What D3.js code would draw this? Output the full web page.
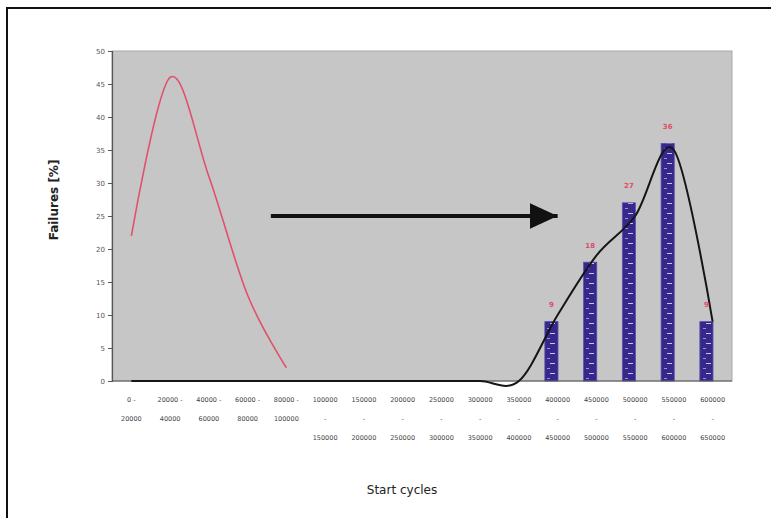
<!DOCTYPE html>
<html>
<head>
<meta charset="utf-8">
<script src="https://cdn.jsdelivr.net/npm/d3@7"></script>
<style>
  body { margin: 0; background: #fff; overflow: hidden; }
  svg { display: block; }
</style>
</head>
<body>
<svg width="771" height="518"></svg>
<script>
// start cycle ranges (category = "start - end")
const rangeStarts = [0, 20000, 40000, 60000, 80000, 100000, 150000, 200000, 250000, 300000, 350000, 400000, 450000, 500000, 550000, 600000];
const rangeEnds = [20000, 40000, 60000, 80000, 100000, 150000, 200000, 250000, 300000, 350000, 400000, 450000, 500000, 550000, 600000, 650000];

// failures [%] per range
const barValues = [null, null, null, null, null, null, null, null, null, null, null, 9, 18, 27, 36, 9];
const barLabels = ["", "", "", "", "", "", "", "", "", "", "", "9", "18", "27", "36", "9"];
const blackCurve = [0, 0, 0, 0, 0, 0, 0, 0, 0, 0, 0, 10, 19, 25, 35, 9];
const redCurve = [22, 46, 31, 13, 2, null, null, null, null, null, null, null, null, null, null, null];

const yTicks = [0, 5, 10, 15, 20, 25, 30, 35, 40, 45, 50];

// arrow annotation, in category index / value units
const arrowStart = [4.1, 25];
const arrowEnd = [11.5, 25];

const svg = d3.select("svg");
const font = "DejaVu Sans, Verdana, sans-serif";

const plot = { left: 112, top: 51, right: 732, bottom: 381 };

const categories = rangeStarts.map((s, i) => s + "-" + rangeEnds[i]);

const x = d3.scaleBand()
    .domain(categories)
    .range([plot.left, plot.right])
    .padding(0);

const xi = d3.scaleLinear()
    .domain([0, categories.length])
    .range([plot.left, plot.right]);

const y = d3.scaleLinear()
    .domain([0, 50])
    .range([plot.bottom, plot.top]);

const bw = x.bandwidth();
const cx = i => x(categories[i]) + bw / 2;

// outer frame (only top/left edges visible)
svg.append("path")
    .attr("d", "M7,518V8H771")
    .attr("fill", "none")
    .attr("stroke", "#111")
    .attr("stroke-width", 2);

// plot area
svg.append("rect")
    .attr("x", plot.left).attr("y", plot.top)
    .attr("width", plot.right - plot.left)
    .attr("height", plot.bottom - plot.top)
    .attr("fill", "#c6c6c6")
    .attr("stroke", "#a8a8a8")
    .attr("stroke-width", 1);

// bar pattern: dark blue with white dashes
const defs = svg.append("defs");
const pat = defs.append("pattern")
    .attr("id", "dash")
    .attr("patternUnits", "userSpaceOnUse")
    .attr("width", 13).attr("height", 10);
pat.append("rect").attr("width", 13).attr("height", 10).attr("fill", "#35288a");
pat.append("rect").attr("x", 4).attr("y", 3).attr("width", 5).attr("height", 1).attr("fill", "#c8c4f0");
pat.append("rect").attr("x", 1).attr("y", 8).attr("width", 3).attr("height", 1).attr("fill", "#9a93d8");

defs.append("marker")
    .attr("id", "head")
    .attr("markerUnits", "userSpaceOnUse")
    .attr("viewBox", "0 -14 28 28")
    .attr("refX", 28).attr("refY", 0)
    .attr("markerWidth", 28).attr("markerHeight", 28)
    .attr("orient", "auto")
    .append("path")
    .attr("d", "M0,-13L28,0L0,13Z")
    .attr("fill", "#111");

// bars
const barIdx = d3.range(barValues.length).filter(i => barValues[i] != null);
svg.append("g").selectAll("rect")
    .data(barIdx)
    .join("rect")
    .attr("x", i => x(categories[i]) + bw * 0.17)
    .attr("width", bw * 0.34)
    .attr("y", i => y(barValues[i]))
    .attr("height", i => y(0) - y(barValues[i]))
    .attr("fill", "url(#dash)")
    .attr("stroke", "#5a50b0")
    .attr("stroke-width", 0.8);

// y axis
const yAxis = svg.append("g")
    .attr("transform", `translate(${plot.left},0)`)
    .call(d3.axisLeft(y).tickValues(yTicks).tickSize(4).tickPadding(3));
yAxis.select(".domain").attr("stroke", "#555").attr("stroke-width", 1.2);
yAxis.selectAll(".tick line").attr("stroke", "#555");
yAxis.selectAll("text")
    .attr("font-family", font)
    .attr("font-size", 7)
    .attr("fill", "#555");

// x axis line
svg.append("line")
    .attr("x1", plot.left).attr("x2", plot.right)
    .attr("y1", plot.bottom).attr("y2", plot.bottom)
    .attr("stroke", "#555").attr("stroke-width", 1.2);

// x tick labels, wrapped like the original
const xLabels = svg.append("g")
    .attr("font-family", font)
    .attr("font-size", 6.5)
    .attr("fill", "#444")
    .attr("text-anchor", "middle");
categories.forEach((c, i) => {
    const first = rangeStarts[i] + " -";
    const lines = first.length <= 7
        ? [first, String(rangeEnds[i])]
        : [String(rangeStarts[i]), "-", String(rangeEnds[i])];
    lines.forEach((t, k) => {
        xLabels.append("text")
            .attr("x", cx(i))
            .attr("y", 400 + k * 19)
            .attr("dy", "0.35em")
            .text(t);
    });
});

// curves
const lineGen = d3.line()
    .defined(d => d[1] != null)
    .x(d => cx(d[0]))
    .y(d => y(d[1]))
    .curve(d3.curveCatmullRom.alpha(0));

svg.append("path")
    .datum(redCurve.map((v, i) => [i, v]))
    .attr("d", lineGen)
    .attr("fill", "none")
    .attr("stroke", "#e2506c")
    .attr("stroke-width", 1.6);

svg.append("path")
    .datum(blackCurve.map((v, i) => [i, v]))
    .attr("d", lineGen)
    .attr("fill", "none")
    .attr("stroke", "#151515")
    .attr("stroke-width", 2);

// bar value labels
svg.append("g").selectAll("text")
    .data(barIdx)
    .join("text")
    .attr("x", i => x(categories[i]) + bw * 0.34)
    .attr("y", i => y(barValues[i]) - 17)
    .attr("dy", "0.35em")
    .attr("text-anchor", "middle")
    .attr("font-family", font)
    .attr("font-size", 7)
    .attr("font-weight", "bold")
    .attr("fill", "#e04a66")
    .text(i => barLabels[i]);

// arrow
svg.append("line")
    .attr("x1", xi(arrowStart[0])).attr("y1", y(arrowStart[1]))
    .attr("x2", xi(arrowEnd[0])).attr("y2", y(arrowEnd[1]))
    .attr("stroke", "#111")
    .attr("stroke-width", 4)
    .attr("marker-end", "url(#head)");

// axis titles
svg.append("text")
    .attr("transform", `translate(54,${(plot.top + plot.bottom) / 2 - 16}) rotate(-90)`)
    .attr("text-anchor", "middle")
    .attr("dy", "0.35em")
    .attr("font-family", font)
    .attr("font-size", 12)
    .attr("font-weight", "bold")
    .attr("fill", "#222")
    .text("Failures [%]");

svg.append("text")
    .attr("x", (plot.left + plot.right) / 2 - 20)
    .attr("y", 490)
    .attr("dy", "0.35em")
    .attr("text-anchor", "middle")
    .attr("font-family", font)
    .attr("font-size", 12)
    .attr("fill", "#222")
    .text("Start cycles");
</script>
</body>
</html>
